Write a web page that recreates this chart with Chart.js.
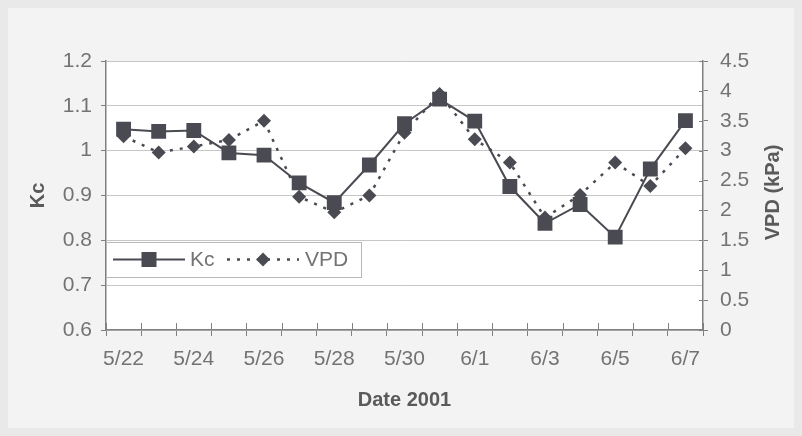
<!DOCTYPE html>
<html>
<head>
<meta charset="utf-8">
<script src="https://cdn.jsdelivr.net/npm/chart.js@4/dist/chart.umd.min.js"></script>
<style>
  html, body { margin: 0; padding: 0; background: #f1f1f1; }
  #wrap { width: 802px; height: 436px; }
</style>
</head>
<body>
<div id="wrap"><canvas id="c" width="802" height="436"></canvas></div>
<script>
// Daily dates, Kc and VPD series
const dates = ['5/22','5/23','5/24','5/25','5/26','5/27','5/28','5/29','5/30','5/31',
               '6/1','6/2','6/3','6/4','6/5','6/6','6/7'];
const kc  = [1.048, 1.043, 1.045, 0.995, 0.990, 0.928, 0.884, 0.968, 1.060, 1.115,
             1.066, 0.920, 0.838, 0.880, 0.807, 0.959, 1.067];
const vpd = [3.24, 2.97, 3.07, 3.18, 3.50, 2.23, 1.97, 2.25, 3.30, 3.95,
             3.19, 2.80, 1.88, 2.26, 2.80, 2.41, 3.04];
const kcTicks  = { min: 0.6, max: 1.2, step: 0.1 };
const vpdTicks = { min: 0, max: 4.5, step: 0.5 };
const xTitle = 'Date 2001';
const kcTitle = 'Kc';
const vpdTitle = 'VPD (kPa)';

const INK = '#4a4a52';
const AXIS = '#808080';
const GRID = '#c6c6c6';
const TXT = '#737373';
const TITLE = '#5a5a5a';
const FAMILY = '"Liberation Sans", Arial, sans-serif';
const TICK_FONT = { family: FAMILY, size: 21 };

// plain numbers without trailing zeros: 1, 1.1, 0.5, 4
const trim = (v) => String(Number(Number(v).toFixed(2)));

// frame, white plot area, inner tick marks, right-hand title and in-plot legend
const decor = {
  id: 'decor',
  beforeDraw(chart) {
    const { ctx, chartArea: a, width, height } = chart;
    ctx.save();
    ctx.fillStyle = '#e9e9e9';
    ctx.fillRect(0, 0, width, height);
    ctx.fillStyle = '#f3f3f3';
    ctx.fillRect(8, 8, width - 16, height - 16);
    ctx.fillStyle = '#ffffff';
    ctx.fillRect(a.left, a.top, a.right - a.left, a.bottom - a.top);
    ctx.restore();
  },
  afterDraw(chart) {
    const { ctx, chartArea: a, scales } = chart;
    const x = scales.x, y2 = scales.y2;
    ctx.save();
    ctx.strokeStyle = AXIS;
    ctx.lineWidth = 1;
    const step = x.getPixelForValue(1) - x.getPixelForValue(0);
    for (let i = 0; i <= dates.length; i++) {
      const px = Math.round(x.getPixelForValue(i) - step / 2) + 0.5;
      ctx.beginPath(); ctx.moveTo(px, a.bottom - 7); ctx.lineTo(px, a.bottom); ctx.stroke();
    }
    y2.ticks.forEach((t, i) => {
      const py = Math.round(y2.getPixelForTick(i)) + 0.5;
      ctx.beginPath(); ctx.moveTo(a.right - 4, py); ctx.lineTo(a.right, py); ctx.stroke();
    });

    // right axis title, reading bottom to top
    ctx.fillStyle = TITLE;
    ctx.font = 'bold 20px ' + FAMILY;
    ctx.textAlign = 'center';
    ctx.textBaseline = 'middle';
    ctx.translate(y2.right - 29, (a.top + a.bottom) / 2 - 3);
    ctx.rotate(-Math.PI / 2);
    ctx.fillText(vpdTitle, 0, 0);
    ctx.restore();

    // legend box inside the plot
    const ds = chart.data.datasets;
    const lx = a.left, ly = a.top + 181, lw = 255, lh = 35;
    ctx.save();
    ctx.fillStyle = '#ffffff';
    ctx.fillRect(lx, ly, lw, lh);
    ctx.strokeStyle = '#b8b8b8';
    ctx.lineWidth = 1;
    ctx.strokeRect(lx + 0.5, ly + 0.5, lw, lh);
    const cy = ly + lh / 2;
    ctx.font = '21px ' + FAMILY;
    ctx.textBaseline = 'middle';
    ctx.textAlign = 'left';
    // Kc sample
    ctx.strokeStyle = ds[0].borderColor; ctx.lineWidth = ds[0].borderWidth;
    ctx.beginPath(); ctx.moveTo(lx + 7, cy); ctx.lineTo(lx + 79, cy); ctx.stroke();
    ctx.fillStyle = ds[0].pointBackgroundColor;
    ctx.fillRect(lx + 43 - 7.5, cy - 7.5, 15, 15);
    ctx.fillStyle = TXT;
    ctx.fillText(ds[0].label, lx + 84, cy + 1);
    // VPD sample
    ctx.strokeStyle = ds[1].borderColor; ctx.lineWidth = ds[1].borderWidth;
    ctx.setLineDash(ds[1].borderDash);
    ctx.beginPath(); ctx.moveTo(lx + 121, cy); ctx.lineTo(lx + 193, cy); ctx.stroke();
    ctx.setLineDash([]);
    ctx.fillStyle = ds[1].pointBackgroundColor;
    const dx = lx + 157, r = 7;
    ctx.beginPath(); ctx.moveTo(dx, cy - r); ctx.lineTo(dx + r, cy); ctx.lineTo(dx, cy + r); ctx.lineTo(dx - r, cy); ctx.closePath(); ctx.fill();
    ctx.fillStyle = TXT;
    ctx.fillText(ds[1].label, lx + 199, cy + 1);
    ctx.restore();
  }
};

new Chart(document.getElementById('c'), {
  type: 'line',
  data: {
    labels: dates,
    datasets: [
      {
        label: 'Kc',
        data: kc,
        yAxisID: 'y',
        borderColor: INK,
        borderWidth: 2,
        tension: 0,
        pointStyle: 'rect',
        pointRadius: 10.5,
        pointBackgroundColor: INK,
        pointBorderWidth: 0,
        order: 0
      },
      {
        label: 'VPD',
        data: vpd,
        yAxisID: 'y2',
        borderColor: INK,
        borderWidth: 2.5,
        borderDash: [3, 7],
        tension: 0,
        pointStyle: 'rectRot',
        pointRadius: 7,
        pointBackgroundColor: INK,
        pointBorderWidth: 0,
        order: 1
      }
    ]
  },
  options: {
    responsive: false,
    animation: false,
    events: [],
    layout: { padding: { top: 61, left: 0, right: 0, bottom: 0 } },
    plugins: { legend: { display: false }, tooltip: { enabled: false } },
    scales: {
      x: {
        type: 'category',
        offset: true,
        grid: { offset: true, drawOnChartArea: false, tickLength: 6, tickColor: AXIS, tickWidth: 1 },
        border: { color: AXIS, width: 1.5 },
        ticks: {
          autoSkip: false, maxRotation: 0, minRotation: 0, padding: 11,
          color: TXT, font: TICK_FONT,
          callback: (v, i) => (i % 2 === 0 ? dates[i] : '')
        },
        title: {
          display: true, text: xTitle, color: TITLE,
          font: { family: FAMILY, size: 20, weight: 'bold', lineHeight: 1.2 },
          padding: { top: 0, bottom: 24 }
        },
        afterFit: (s) => { s.height = 106; }
      },
      y: {
        position: 'left',
        min: kcTicks.min, max: kcTicks.max,
        ticks: { stepSize: kcTicks.step, padding: 9, color: TXT, font: TICK_FONT, callback: trim },
        grid: { color: GRID, tickColor: AXIS, tickLength: 5, lineWidth: 1 },
        border: { color: AXIS, width: 1.5 },
        title: {
          display: true, text: kcTitle, color: TITLE,
          font: { family: FAMILY, size: 20, weight: 'bold', lineHeight: 1.2 },
          padding: { top: 26, bottom: 0 }
        },
        afterFit: (s) => { s.width = 106; }
      },
      y2: {
        position: 'right',
        min: vpdTicks.min, max: vpdTicks.max,
        ticks: { stepSize: vpdTicks.step, padding: 12, color: TXT, font: TICK_FONT, callback: trim },
        grid: { drawOnChartArea: false, tickColor: AXIS, tickLength: 5 },
        border: { color: AXIS, width: 1.5 },
        afterFit: (s) => { s.width = 99; }
      }
    }
  },
  plugins: [decor]
});
</script>
</body>
</html>
